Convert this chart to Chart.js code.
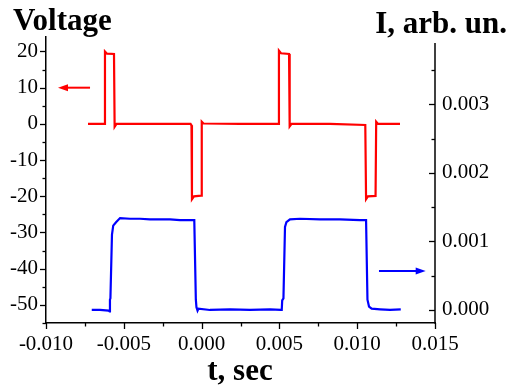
<!DOCTYPE html>
<html><head><meta charset="utf-8">
<script src="https://cdn.jsdelivr.net/npm/chart.js@4"></script>
<style>html,body{margin:0;padding:0;background:#fff}#wrap{width:507px;height:392px;position:relative}</style>
</head><body><div id="wrap"><canvas id="c" width="507" height="392"></canvas></div>
<script>
// Voltage (left axis), time in seconds
const voltageT = [-0.00730,-0.00624,-0.00621,-0.00608,-0.00563,-0.00559,-0.00547,-0.00332,-0.00071,-0.00065,-0.00062,-0.00049,-0.00003,0.00001,0.00012,0.00247,0.00494,0.00497,0.00510,0.00562,0.00566,0.00578,0.00825,0.01052,0.01057,0.01069,0.01118,0.01122,0.01134,0.01275];
const voltageV = [0,0,20.0,19.4,19.3,-0.8,0,0,0,-0.4,-20.8,-20.0,-19.8,0.6,0.1,0,0,20.2,19.5,19.3,-0.7,0,0,-0.3,-20.8,-20.0,-19.9,0.6,0,0];
// Current (right axis)
const currentT = [-0.00706,-0.00653,-0.00598,-0.00592,-0.00589,-0.00586,-0.00576,-0.00568,-0.00550,-0.00524,-0.00460,-0.00396,-0.00332,-0.00267,-0.00203,-0.00139,-0.00075,-0.00047,-0.00037,-0.00033,-0.00026,-0.00020,0.00054,0.00183,0.00311,0.00440,0.00510,0.00515,0.00518,0.00526,0.00536,0.00545,0.00568,0.00632,0.00761,0.00889,0.01018,0.01057,0.01066,0.01076,0.01093,0.01147,0.01211,0.01280];
const currentI = [0.00000,0.00000,-0.00001,-0.00002,0.00015,0.00017,0.00110,0.00123,0.00128,0.00134,0.00133,0.00133,0.00132,0.00132,0.00132,0.00131,0.00131,0.00131,0.00015,0.00004,-0.00001,0.00002,0.00000,0.00001,0.00000,0.00001,0.00000,0.00000,0.00014,0.00017,0.00121,0.00128,0.00132,0.00133,0.00132,0.00132,0.00131,0.00131,0.00015,0.00005,0.00002,0.00001,0.00000,0.00001];

const xTicks = [-0.010,-0.005,0.000,0.005,0.010,0.015];
const xMinorTicks = [-0.0075,-0.0025,0.0025,0.0075,0.0125];
const vTicks = [-50,-40,-30,-20,-10,0,10,20];
const vMinorTicks = [-55,-45,-35,-25,-15,-5,5,15];
const iTicks = [0.000,0.001,0.002,0.003];
const iMinorTicks = [0.0005,0.0015,0.0025,0.0035];
const voltageArrow = {from:-0.00717, to:-0.00923, v:10};
const currentArrow = {from:0.01140, to:0.01440, i:0.00057};

const tickFont = {family:'"Liberation Serif", "Times New Roman", serif', size:21};

const deco = {
  id:'deco',
  afterDraw(chart){
    const {ctx, chartArea:a, scales} = chart;
    const x = scales.x, yV = scales.yV, yI = scales.yI;
    ctx.save();
    ctx.strokeStyle = '#000'; ctx.lineWidth = 1.3; ctx.lineCap = 'butt';
    const line = (x1,y1,x2,y2)=>{ctx.beginPath();ctx.moveTo(x1,y1);ctx.lineTo(x2,y2);ctx.stroke();};
    xTicks.forEach(v=>{const p=Math.round(x.getPixelForValue(v))+0.5; line(p,a.bottom,p,a.bottom+6);});
    xMinorTicks.forEach(v=>{const p=Math.round(x.getPixelForValue(v))+0.5; line(p,a.bottom,p,a.bottom+3.5);});
    vTicks.forEach(v=>{const p=Math.round(yV.getPixelForValue(v))+0.5; line(a.left-6,p,a.left,p);});
    vMinorTicks.forEach(v=>{const p=Math.round(yV.getPixelForValue(v))+0.5; line(a.left-3.5,p,a.left,p);});
    iTicks.forEach(v=>{const p=Math.round(yI.getPixelForValue(v))+0.5; line(a.right-6,p,a.right,p);});
    iMinorTicks.forEach(v=>{const p=Math.round(yI.getPixelForValue(v))+0.5; line(a.right-3.5,p,a.right,p);});
    ctx.lineWidth = 1.5;
    line(a.right, a.top+6, a.right, a.bottom+0.75);
    // arrows
    const arrow = (x1,y,x2,color)=>{
      ctx.strokeStyle = color; ctx.fillStyle = color; ctx.lineWidth = 2;
      const dir = Math.sign(x2-x1);
      line(x1,y,x2-dir*8,y);
      ctx.beginPath(); ctx.moveTo(x2,y); ctx.lineTo(x2-dir*10,y-3.5); ctx.lineTo(x2-dir*10,y+3.5); ctx.closePath(); ctx.fill();
    };
    arrow(x.getPixelForValue(voltageArrow.from), yV.getPixelForValue(voltageArrow.v), x.getPixelForValue(voltageArrow.to), '#ff0000');
    arrow(x.getPixelForValue(currentArrow.from), yI.getPixelForValue(currentArrow.i), x.getPixelForValue(currentArrow.to), '#0000ff');
    // titles
    ctx.fillStyle = '#000';
    ctx.font = 'bold 31px "Liberation Serif", "Times New Roman", serif';
    ctx.textBaseline = 'alphabetic';
    ctx.textAlign = 'left'; ctx.fillText('Voltage', 13, 30);
    ctx.textAlign = 'right'; ctx.fillText('I, arb. un.', 507, 33);
    ctx.textAlign = 'center'; ctx.fillText('t, sec', 240, 380);
    ctx.restore();
  }
};

new Chart(document.getElementById('c'), {
  type:'line',
  data:{datasets:[
    {label:'Voltage', data: voltageT.map((t,i)=>({x:t,y:voltageV[i]})), borderColor:'#ff0000', borderWidth:2.2, pointRadius:0, tension:0, yAxisID:'yV'},
    {label:'I', data: currentT.map((t,i)=>({x:t,y:currentI[i]})), borderColor:'#0000ff', borderWidth:2.2, pointRadius:0, tension:0, yAxisID:'yI'}
  ]},
  options:{
    responsive:false, animation:false, devicePixelRatio:1,
    layout:{padding:{top:37,left:0,right:0,bottom:0}},
    plugins:{legend:{display:false}, tooltip:{enabled:false}},
    scales:{
      x:{type:'linear', position:'bottom', min:-0.010, max:0.015,
        afterBuildTicks:s=>{s.ticks = xTicks.map(v=>({value:v}));},
        afterFit:s=>{s.height = 69;},
        ticks:{callback:v=>Number(v).toFixed(3), font:tickFont, color:'#000', padding:9, maxRotation:0, autoSkip:false},
        grid:{display:false, drawTicks:false}, border:{display:true, color:'#000', width:1.5}},
      yV:{type:'linear', position:'left', min:-55, max:24,
        afterBuildTicks:s=>{s.ticks = vTicks.map(v=>({value:v}));},
        afterFit:s=>{s.width = 46;},
        ticks:{callback:v=>String(v), font:tickFont, color:'#000', padding:8, autoSkip:false},
        grid:{display:false, drawTicks:false}, border:{display:true, color:'#000', width:1.5}},
      yI:{type:'linear', position:'right', min:-0.00019, max:0.00398,
        afterBuildTicks:s=>{s.ticks = iTicks.map(v=>({value:v}));},
        afterFit:s=>{s.width = 72;},
        ticks:{callback:v=>Number(v).toFixed(3), font:tickFont, color:'#000', padding:7, autoSkip:false},
        grid:{display:false, drawTicks:false}, border:{display:false}}
    }
  },
  plugins:[deco]
});
</script>
</body></html>
